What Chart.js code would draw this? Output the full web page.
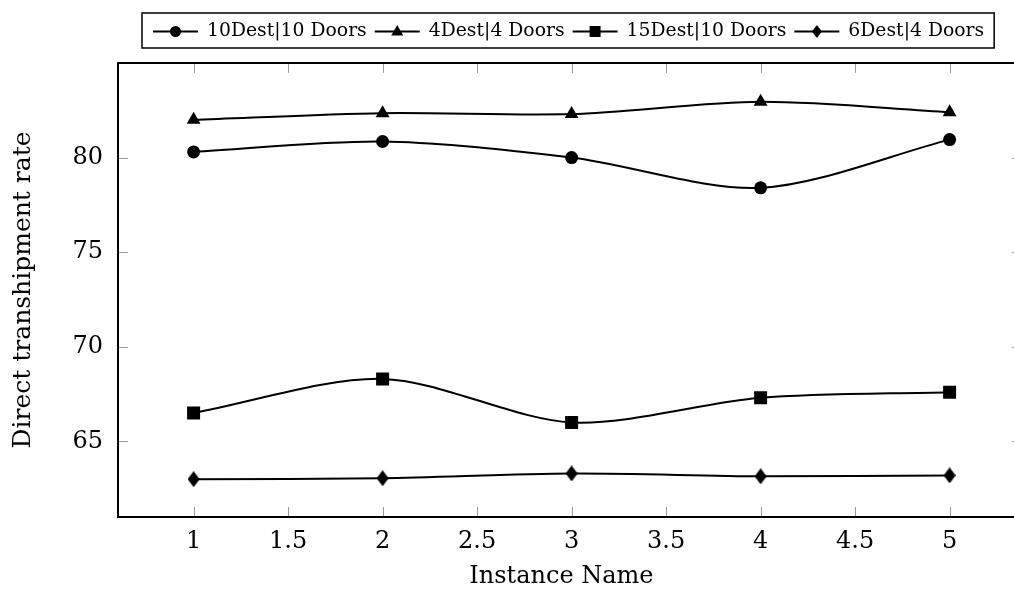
<!DOCTYPE html>
<html>
<head>
<meta charset="utf-8">
<script src="https://cdn.jsdelivr.net/npm/chart.js@4.4.0/dist/chart.umd.min.js"></script>
<style>
    body { margin: 0; overflow: hidden; background: #fff; }
    #wrap { width: 1014px; height: 593px; }
</style>
</head>
<body>
<div id="wrap"><canvas id="chart" width="1014" height="593"></canvas></div>
<script>
// Data
const instances = [1, 2, 3, 4, 5];
const dest10doors10 = [80.3, 80.85, 80.0, 78.4, 80.95];
const dest4doors4 = [82.0, 82.35, 82.3, 82.95, 82.4];
const dest15doors10 = [66.5, 68.3, 66.0, 67.3, 67.6];
const dest6doors4 = [63.0, 63.05, 63.3, 63.15, 63.2];
const seriesNames = ['10Dest|10 Doors', '4Dest|4 Doors', '15Dest|10 Doors', '6Dest|4 Doors'];
const xTicks = [1, 1.5, 2, 2.5, 3, 3.5, 4, 4.5, 5];
const yTicks = [65, 70, 75, 80];

const FONT = "'DejaVu Serif', 'Liberation Serif', serif";

// the original axis runs 0.6..5.4 and is cut by the picture's right edge.
// Chart.js keeps ~9px on the right for the markers, so the chart area stops
// there; max is the value that lands at that pixel with the original spacing.
const X_MIN = 0.6;
const X_MAX_VISIBLE = 5.292;

// diamond marker as an image, pgfplots style (taller than wide)
function makeDiamond(w, h) {
    const c = document.createElement('canvas');
    c.width = w; c.height = h;
    const g = c.getContext('2d');
    g.fillStyle = '#000';
    g.beginPath();
    g.moveTo(w / 2, 0);
    g.lineTo(w, h / 2);
    g.lineTo(w / 2, h);
    g.lineTo(0, h / 2);
    g.closePath();
    g.fill();
    return c;
}
const diamond = makeDiamond(12, 16);
const diamondSmall = makeDiamond(10, 13);

const toPoints = vals => instances.map((x, i) => ({ x: x, y: vals[i] }));

function series(label, vals, style, radius) {
    return {
        label: label,
        data: toPoints(vals),
        borderColor: '#000',
        backgroundColor: '#000',
        borderWidth: 2,
        pointStyle: style,
        pointRadius: radius,
        pointHoverRadius: radius,
        pointBorderWidth: 0,
        tension: 0.3,
        fill: false
    };
}

// axis ticks (grey, inward) and the black frame (right side is off-picture)
const framePlugin = {
    id: 'frame',
    beforeDatasetsDraw(chart) {
        const ctx = chart.ctx;
        const a = chart.chartArea;
        const xs = chart.scales.x, ys = chart.scales.y;
        ctx.save();
        ctx.strokeStyle = '#9a9a9a';
        ctx.lineWidth = 1;
        xs.ticks.forEach(t => {
            const px = Math.round(xs.getPixelForValue(t.value)) + 0.5;
            ctx.beginPath();
            ctx.moveTo(px, a.bottom); ctx.lineTo(px, a.bottom - 10);
            ctx.moveTo(px, a.top); ctx.lineTo(px, a.top + 10);
            ctx.stroke();
        });
        ys.ticks.forEach(t => {
            const py = Math.round(ys.getPixelForValue(t.value)) + 0.5;
            ctx.beginPath();
            ctx.moveTo(a.left, py); ctx.lineTo(a.left + 10, py);
            // only the tip of the right-hand ticks is in the picture
            ctx.moveTo(chart.width, py); ctx.lineTo(chart.width - 2, py);
            ctx.stroke();
        });
        ctx.restore();
    },
    afterDatasetsDraw(chart) {
        const ctx = chart.ctx;
        const a = chart.chartArea;
        ctx.save();
        ctx.strokeStyle = '#000';
        ctx.lineWidth = 2;
        ctx.beginPath();
        ctx.moveTo(chart.width, a.top);
        ctx.lineTo(a.left, a.top);
        ctx.lineTo(a.left, a.bottom);
        ctx.lineTo(chart.width, a.bottom);
        ctx.stroke();
        ctx.restore();
    }
};

// boxed legend on one row above the plot
const legendPlugin = {
    id: 'boxLegend',
    afterDraw(chart) {
        const ctx = chart.ctx;
        const top = 13, bottom = 48, left = 142;
        const cy = (top + bottom) / 2 + 1;
        ctx.save();
        ctx.font = '18.8px ' + FONT;
        ctx.textBaseline = 'middle';
        ctx.fillStyle = '#000';
        ctx.strokeStyle = '#000';
        let x = 153;
        chart.data.datasets.forEach(ds => {
            ctx.lineWidth = 2;
            ctx.beginPath();
            ctx.moveTo(x, cy); ctx.lineTo(x + 45, cy);
            ctx.stroke();
            const mx = x + 22.5;
            ctx.beginPath();
            if (ds.pointStyle === 'circle') {
                ctx.arc(mx, cy, 5.5, 0, Math.PI * 2);
                ctx.fill();
            } else if (ds.pointStyle === 'triangle') {
                ctx.moveTo(mx, cy - 6.5);
                ctx.lineTo(mx + 6, cy + 4);
                ctx.lineTo(mx - 6, cy + 4);
                ctx.closePath();
                ctx.fill();
            } else if (ds.pointStyle === 'rect') {
                ctx.fillRect(mx - 5.5, cy - 5.5, 11, 11);
            } else {
                ctx.drawImage(diamondSmall, mx - 5, cy - 6.5);
            }
            ctx.fillText(ds.label, x + 54, cy);
            x = x + 54 + ctx.measureText(ds.label).width + 8;
        });
        ctx.lineWidth = 1.5;
        ctx.strokeRect(left, top, x + 2 - left, bottom - top);
        ctx.restore();
    }
};

const ctx = document.getElementById('chart').getContext('2d');
new Chart(ctx, {
    type: 'line',
    data: {
        datasets: [
            series(seriesNames[0], dest10doors10, 'circle', 6.5),
            series(seriesNames[1], dest4doors4, 'triangle', 8),
            series(seriesNames[2], dest15doors10, 'rect', 9.2),
            series(seriesNames[3], dest6doors4, diamond, 8)
        ]
    },
    options: {
        responsive: false,
        animation: false,
        layout: { padding: { top: 63, right: 0, left: 0, bottom: 0 } },
        plugins: {
            legend: { display: false },
            tooltip: { enabled: false }
        },
        scales: {
            x: {
                type: 'linear',
                min: X_MIN,
                max: X_MAX_VISIBLE,
                afterBuildTicks: s => { s.ticks = xTicks.map(v => ({ value: v })); },
                afterFit: s => {
                    s.height = 76;
                    s.paddingLeft = 0;
                    s.paddingRight = 0;
                },
                grid: { display: false, drawTicks: false },
                border: { display: false },
                ticks: {
                    color: '#000',
                    font: { family: FONT, size: 24 },
                    padding: 10,
                    maxRotation: 0,
                    callback: v => String(v)
                },
                title: {
                    display: true,
                    text: 'Instance Name',
                    color: '#000',
                    font: { family: FONT, size: 24 },
                    padding: { top: 0, bottom: 2 }
                }
            },
            y: {
                min: 61,
                max: 85,
                afterBuildTicks: s => { s.ticks = yTicks.map(v => ({ value: v })); },
                afterFit: s => {
                    s.width = 118;
                    s.paddingTop = 0;
                    s.paddingBottom = 0;
                },
                grid: { display: false, drawTicks: false },
                border: { display: false },
                ticks: {
                    color: '#000',
                    font: { family: FONT, size: 24 },
                    padding: 15
                },
                title: {
                    display: true,
                    text: 'Direct transhipment rate',
                    color: '#000',
                    font: { family: FONT, size: 25 },
                    padding: { top: 8, bottom: 0 }
                }
            }
        }
    },
    plugins: [framePlugin, legendPlugin]
});
</script>
</body>
</html>
